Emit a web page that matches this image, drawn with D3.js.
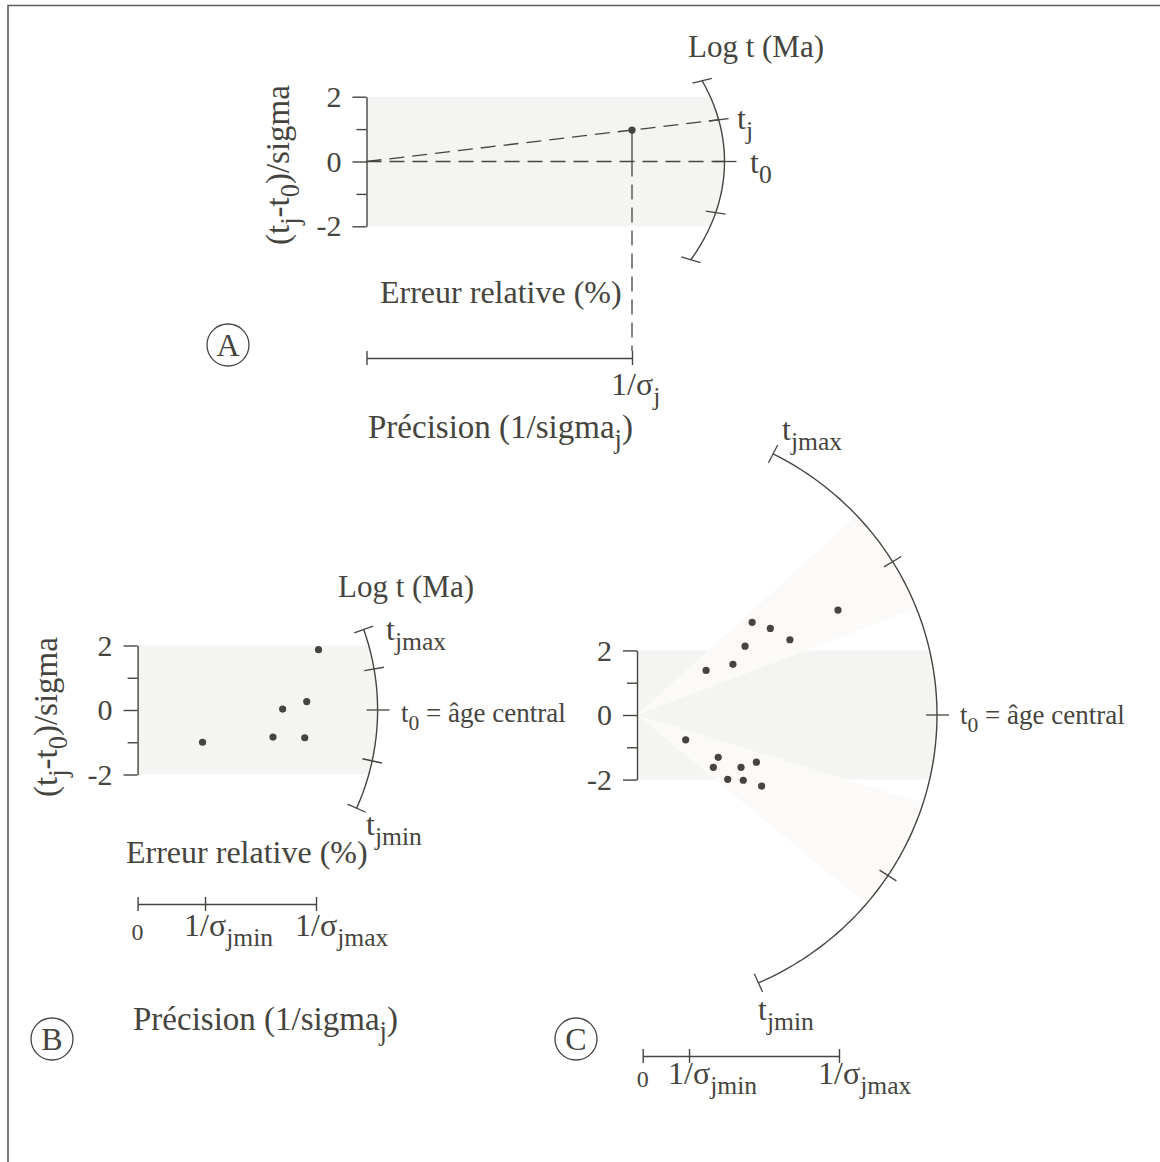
<!DOCTYPE html>
<html>
<head>
<meta charset="utf-8">
<script src="https://cdn.jsdelivr.net/npm/d3@7"></script>
<style>
body { margin: 0; background: #fff; }
svg text { font-family: "Liberation Serif", "Times New Roman", serif; fill: #46443e; }
</style>
</head>
<body>
<div id="container"></div>
<script>
let w = 1160;
let h = 1162;
let ink = "#46443e";

// ---- data ----
// standardised estimate axis, shared by the three panels
let yTicks = [-2, -1, 0, 1, 2];
let yTickLabels = [-2, 0, 2];

// panel A : one grain (precision, standardised estimate)
let precA = [1.0];
let zA = [0.97];
let barA = [0, 1];
let barLabelsA = [["", ""], ["1/σ", "j"]];
// ticks on the log t arc, given as slope of the ray through the origin
let arcTicksA = [1.97, 0.97, 0, -1.2, -2.48];

// panel B : six grains
let precB = [0.364, 0.759, 0.813, 0.948, 0.937, 1.014];
let zB = [-1.0, -0.84, 0.03, 0.26, -0.86, 1.87];
let barB = [0, 0.378, 1];
let barLabelsB = [["0", ""], ["1/σ", "jmin"], ["1/σ", "jmax"]];
let arcTicksB = [1.97, 0.96, 0, -1.2, -2.48];

// panel C : two age populations
let precC = [0.995, 0.570, 0.660, 0.757, 0.535, 0.475, 0.342,
             0.241, 0.402, 0.378, 0.515, 0.591, 0.449, 0.526, 0.617];
let zC = [3.25, 2.87, 2.68, 2.33, 2.13, 1.57, 1.38,
          -0.77, -1.31, -1.62, -1.62, -1.46, -1.99, -2.02, -2.20];
let wedgesC = [[2.39, 5.68], [-1.92, -5.16]];
let barC = [0, 0.236, 1];
let barLabelsC = [["0", ""], ["1/σ", "jmin"], ["1/σ", "jmax"]];
let arcTicksC = [12.0, 3.75, 0, -4.0, -13.8];

// ---- page ----
let svg = d3.select("#container")
  .append("svg")
    .attr("width", w)
    .attr("height", h)
;
let defs = svg.append("defs");

// frame (left and top rule only)
svg.append("path")
  .attr("d", "M8," + h + "V5.5H" + w)
  .attr("fill", "none")
  .attr("stroke", "#5d5c57")
  .attr("stroke-width", 1.6);

function richText(parent, x, y, segs, size, anchor){
  let t = parent.append("text")
    .attr("x", x).attr("y", y)
    .attr("font-size", size)
    .attr("text-anchor", anchor || "start");
  let shift = 0;
  segs.forEach(function(s){
    let sub = s[1] === 1;
    let target = sub ? size * 0.3 : 0;
    t.append("tspan")
      .attr("dy", target - shift)
      .attr("font-size", sub ? size * 0.8 : size)
      .text(s[0]);
    shift = target;
  });
  return t;
}

function makePanel(id, cfg){
  let g = svg.append("g").classed("panel" + id, true);
  let x = d3.scaleLinear().domain([0, 1]).range([cfg.ox, cfg.ox + cfg.kx]);
  let y = d3.scaleLinear().domain([-2, 2]).range([cfg.oy + 2 * cfg.ky, cfg.oy - 2 * cfg.ky]);
  defs.append("clipPath").attr("id", "clip" + id)
    .append("ellipse")
      .attr("cx", cfg.ox).attr("cy", cfg.oy)
      .attr("rx", cfg.rx).attr("ry", cfg.ry);
  return {id: id, g: g, x: x, y: y, cfg: cfg};
}

// where the ray of a given slope meets the log t arc
function rayEnd(p, slope){
  let dx = p.x(1) - p.x(0);
  let dy = p.y(slope) - p.y(0);
  let t = 1 / Math.sqrt(Math.pow(dx / p.cfg.rx, 2) + Math.pow(dy / p.cfg.ry, 2));
  let len = Math.hypot(dx, dy);
  return {
    x: p.x(0) + t * dx, y: p.y(0) + t * dy,
    ux: dx / len, uy: dy / len,
    phi: Math.atan2(t * dy / p.cfg.ry, t * dx / p.cfg.rx)
  };
}

function drawBand(p){
  p.g.append("rect")
    .attr("x", p.x(0))
    .attr("y", p.y(2))
    .attr("width", p.cfg.rx + 2)
    .attr("height", p.y(-2) - p.y(2))
    .attr("fill", "#f4f4f3")
    .attr("clip-path", "url(#clip" + p.id + ")");
}

function drawWedges(p, wedges){
  p.g.selectAll(".wedge").data(wedges).enter()
    .append("path").classed("wedge", true)
    .attr("d", function(d){
      let a = rayEnd(p, d[0]), b = rayEnd(p, d[1]);
      let ox = p.x(0), oy = p.y(0);
      return "M" + ox + "," + oy +
        "L" + (ox + 2 * (a.x - ox)) + "," + (oy + 2 * (a.y - oy)) +
        "L" + (ox + 2 * (b.x - ox)) + "," + (oy + 2 * (b.y - oy)) + "Z";
    })
    .attr("fill", "#fbfaf8")
    .attr("clip-path", "url(#clip" + p.id + ")");
}

function drawYAxis(p){
  let axis = d3.axisLeft(p.y)
    .tickValues(yTicks)
    .tickSizeOuter(0)
    .tickSizeInner(14)
    .tickPadding(11)
    .tickFormat(function(d){ return yTickLabels.includes(d) ? String(d) : ""; });
  let ag = p.g.append("g")
    .attr("transform", "translate(" + p.x(0) + ",0)")
    .call(axis);
  ag.attr("font-size", 30).attr("font-family", null);
  ag.select(".domain").attr("stroke", ink).attr("stroke-width", 1.4);
  ag.selectAll(".tick line")
    .attr("stroke", ink).attr("stroke-width", 1.4)
    .attr("x2", function(d){ return yTickLabels.includes(d) ? -14 : -10; });
  ag.selectAll(".tick text").attr("fill", ink);
}

function drawArc(p, ticks){
  let top = rayEnd(p, ticks[0]);
  let bot = rayEnd(p, ticks[ticks.length - 1]);
  let pts = d3.range(0, 101).map(function(i){
    let phi = top.phi + (bot.phi - top.phi) * i / 100;
    return [p.cfg.ox + p.cfg.rx * Math.cos(phi), p.cfg.oy + p.cfg.ry * Math.sin(phi)];
  });
  p.g.append("path")
    .attr("d", d3.line()(pts))
    .attr("fill", "none")
    .attr("stroke", ink)
    .attr("stroke-width", 1.4);
  p.g.selectAll(".arcTick").data(ticks).enter()
    .append("line").classed("arcTick", true)
    .each(function(s){
      let e = rayEnd(p, s);
      let inner = s === 0 ? 11 : 10;
      let outer = s === 0 ? 12 : 10;
      d3.select(this)
        .attr("x1", e.x - inner * e.ux).attr("y1", e.y - inner * e.uy)
        .attr("x2", e.x + outer * e.ux).attr("y2", e.y + outer * e.uy);
    })
    .attr("stroke", ink)
    .attr("stroke-width", 1.3);
}

function drawDots(p, xs, zs){
  p.g.selectAll(".dot").data(xs).enter()
    .append("circle").classed("dot", true)
    .attr("cx", function(d){ return p.x(d); })
    .attr("cy", function(d, i){ return p.y(zs[i]); })
    .attr("r", 3.6)
    .attr("fill", ink);
}

function drawBar(p, scale, by, values, labels, labelDy, zeroDy){
  let axis = d3.axisBottom(scale)
    .tickValues(values)
    .tickSizeOuter(0)
    .tickSizeInner(7)
    .tickFormat("");
  let bg = p.g.append("g")
    .attr("transform", "translate(0," + by + ")")
    .call(axis);
  bg.select(".domain").attr("stroke", ink).attr("stroke-width", 1.4);
  bg.selectAll(".tick line").attr("y1", -7).attr("stroke", ink).attr("stroke-width", 1.4);
  values.forEach(function(v, i){
    let lab = labels[i];
    if (lab[0] === "") return;
    if (lab[0] === "0"){
      richText(p.g, scale(v), by + zeroDy, [["0"]], 24, "middle");
    } else {
      richText(p.g, scale(v) - 21, by + labelDy, [[lab[0]], [lab[1], 1]], 32);
    }
  });
}

function yLabel(p, bx, cy){
  richText(p.g, 0, 0, [["(t"], ["j", 1], ["-t"], ["0", 1], [")/sigma"]], 33, "middle")
    .attr("transform", "translate(" + bx + "," + cy + ") rotate(-90)");
}

function circleLetter(p, cx, cy, letter){
  p.g.append("circle")
    .attr("cx", cx).attr("cy", cy).attr("r", 21)
    .attr("fill", "none").attr("stroke", ink).attr("stroke-width", 1.3);
  richText(p.g, cx, cy + 11, [[letter]], 32, "middle");
}

// ---------- panel A ----------
let pA = makePanel("A", {ox: 366.5, oy: 161.5, kx: 265.5, ky: 32.4, rx: 358, ry: 232});
drawBand(pA);
drawYAxis(pA);
// zero line and ray of the grain
let t0A = rayEnd(pA, 0);
pA.g.append("line")
  .attr("x1", pA.x(0)).attr("y1", pA.y(0))
  .attr("x2", t0A.x).attr("y2", t0A.y)
  .attr("stroke", ink).attr("stroke-width", 1.3)
  .attr("stroke-dasharray", "15,8");
let tjA = rayEnd(pA, zA[0] / precA[0]);
pA.g.append("line")
  .attr("x1", pA.x(0)).attr("y1", pA.y(0))
  .attr("x2", tjA.x).attr("y2", tjA.y)
  .attr("stroke", ink).attr("stroke-width", 1.3)
  .attr("stroke-dasharray", "15,8");
// projection of the grain on the precision bar
pA.g.append("line")
  .attr("x1", pA.x(precA[0])).attr("y1", pA.y(zA[0]))
  .attr("x2", pA.x(precA[0])).attr("y2", pA.y(0))
  .attr("stroke", ink).attr("stroke-width", 1.3);
pA.g.append("line")
  .attr("x1", pA.x(precA[0])).attr("y1", pA.y(0))
  .attr("x2", pA.x(precA[0])).attr("y2", 351)
  .attr("stroke", ink).attr("stroke-width", 1.3)
  .attr("stroke-dasharray", "15,8");
drawArc(pA, arcTicksA);
drawDots(pA, precA, zA);
drawBar(pA, pA.x, 358, barA, barLabelsA, 37, 37);
richText(pA.g, 688, 57, [["Log t (Ma)"]], 31);
richText(pA.g, 737, 129, [["t"], ["j", 1]], 32);
richText(pA.g, 750, 173, [["t"], ["0", 1]], 32);
yLabel(pA, 289, 165);
richText(pA.g, 380, 303, [["Erreur relative (%)"]], 32);
richText(pA.g, 368, 438, [["Précision (1/sigma"], ["j", 1], [")"]], 33);
circleLetter(pA, 228, 345, "A");

// ---------- panel B ----------
let pB = makePanel("B", {ox: 137.6, oy: 710, kx: 178.4, ky: 32.25, rx: 240, ry: 240});
drawBand(pB);
drawYAxis(pB);
drawArc(pB, arcTicksB);
drawDots(pB, precB, zB);
drawBar(pB, pB.x, 904, barB, barLabelsB, 32, 36);
richText(pB.g, 338, 597, [["Log t (Ma)"]], 31);
richText(pB.g, 386, 640, [["t"], ["jmax", 1]], 32);
richText(pB.g, 401, 722, [["t"], ["0", 1], [" = âge central"]], 27);
richText(pB.g, 366, 835, [["t"], ["jmin", 1]], 32);
yLabel(pB, 57, 717);
richText(pB.g, 126, 863, [["Erreur relative (%)"]], 32);
richText(pB.g, 133, 1030, [["Précision (1/sigma"], ["j", 1], [")"]], 33);
circleLetter(pB, 52, 1039, "B");

// ---------- panel C ----------
let pC = makePanel("C", {ox: 637, oy: 715, kx: 202, ky: 32.3, rx: 300, ry: 293});
drawBand(pC);
drawWedges(pC, wedgesC);
drawYAxis(pC);
drawArc(pC, arcTicksC);
drawDots(pC, precC, zC);
let barScaleC = d3.scaleLinear().domain([0, 1]).range([642.7, 839]);
drawBar(pC, barScaleC, 1056, barC, barLabelsC, 28, 31);
richText(pC.g, 782, 440, [["t"], ["jmax", 1]], 32);
richText(pC.g, 960, 724, [["t"], ["0", 1], [" = âge central"]], 27);
richText(pC.g, 758, 1020, [["t"], ["jmin", 1]], 32);
circleLetter(pC, 576, 1039, "C");
</script>
</body>
</html>
